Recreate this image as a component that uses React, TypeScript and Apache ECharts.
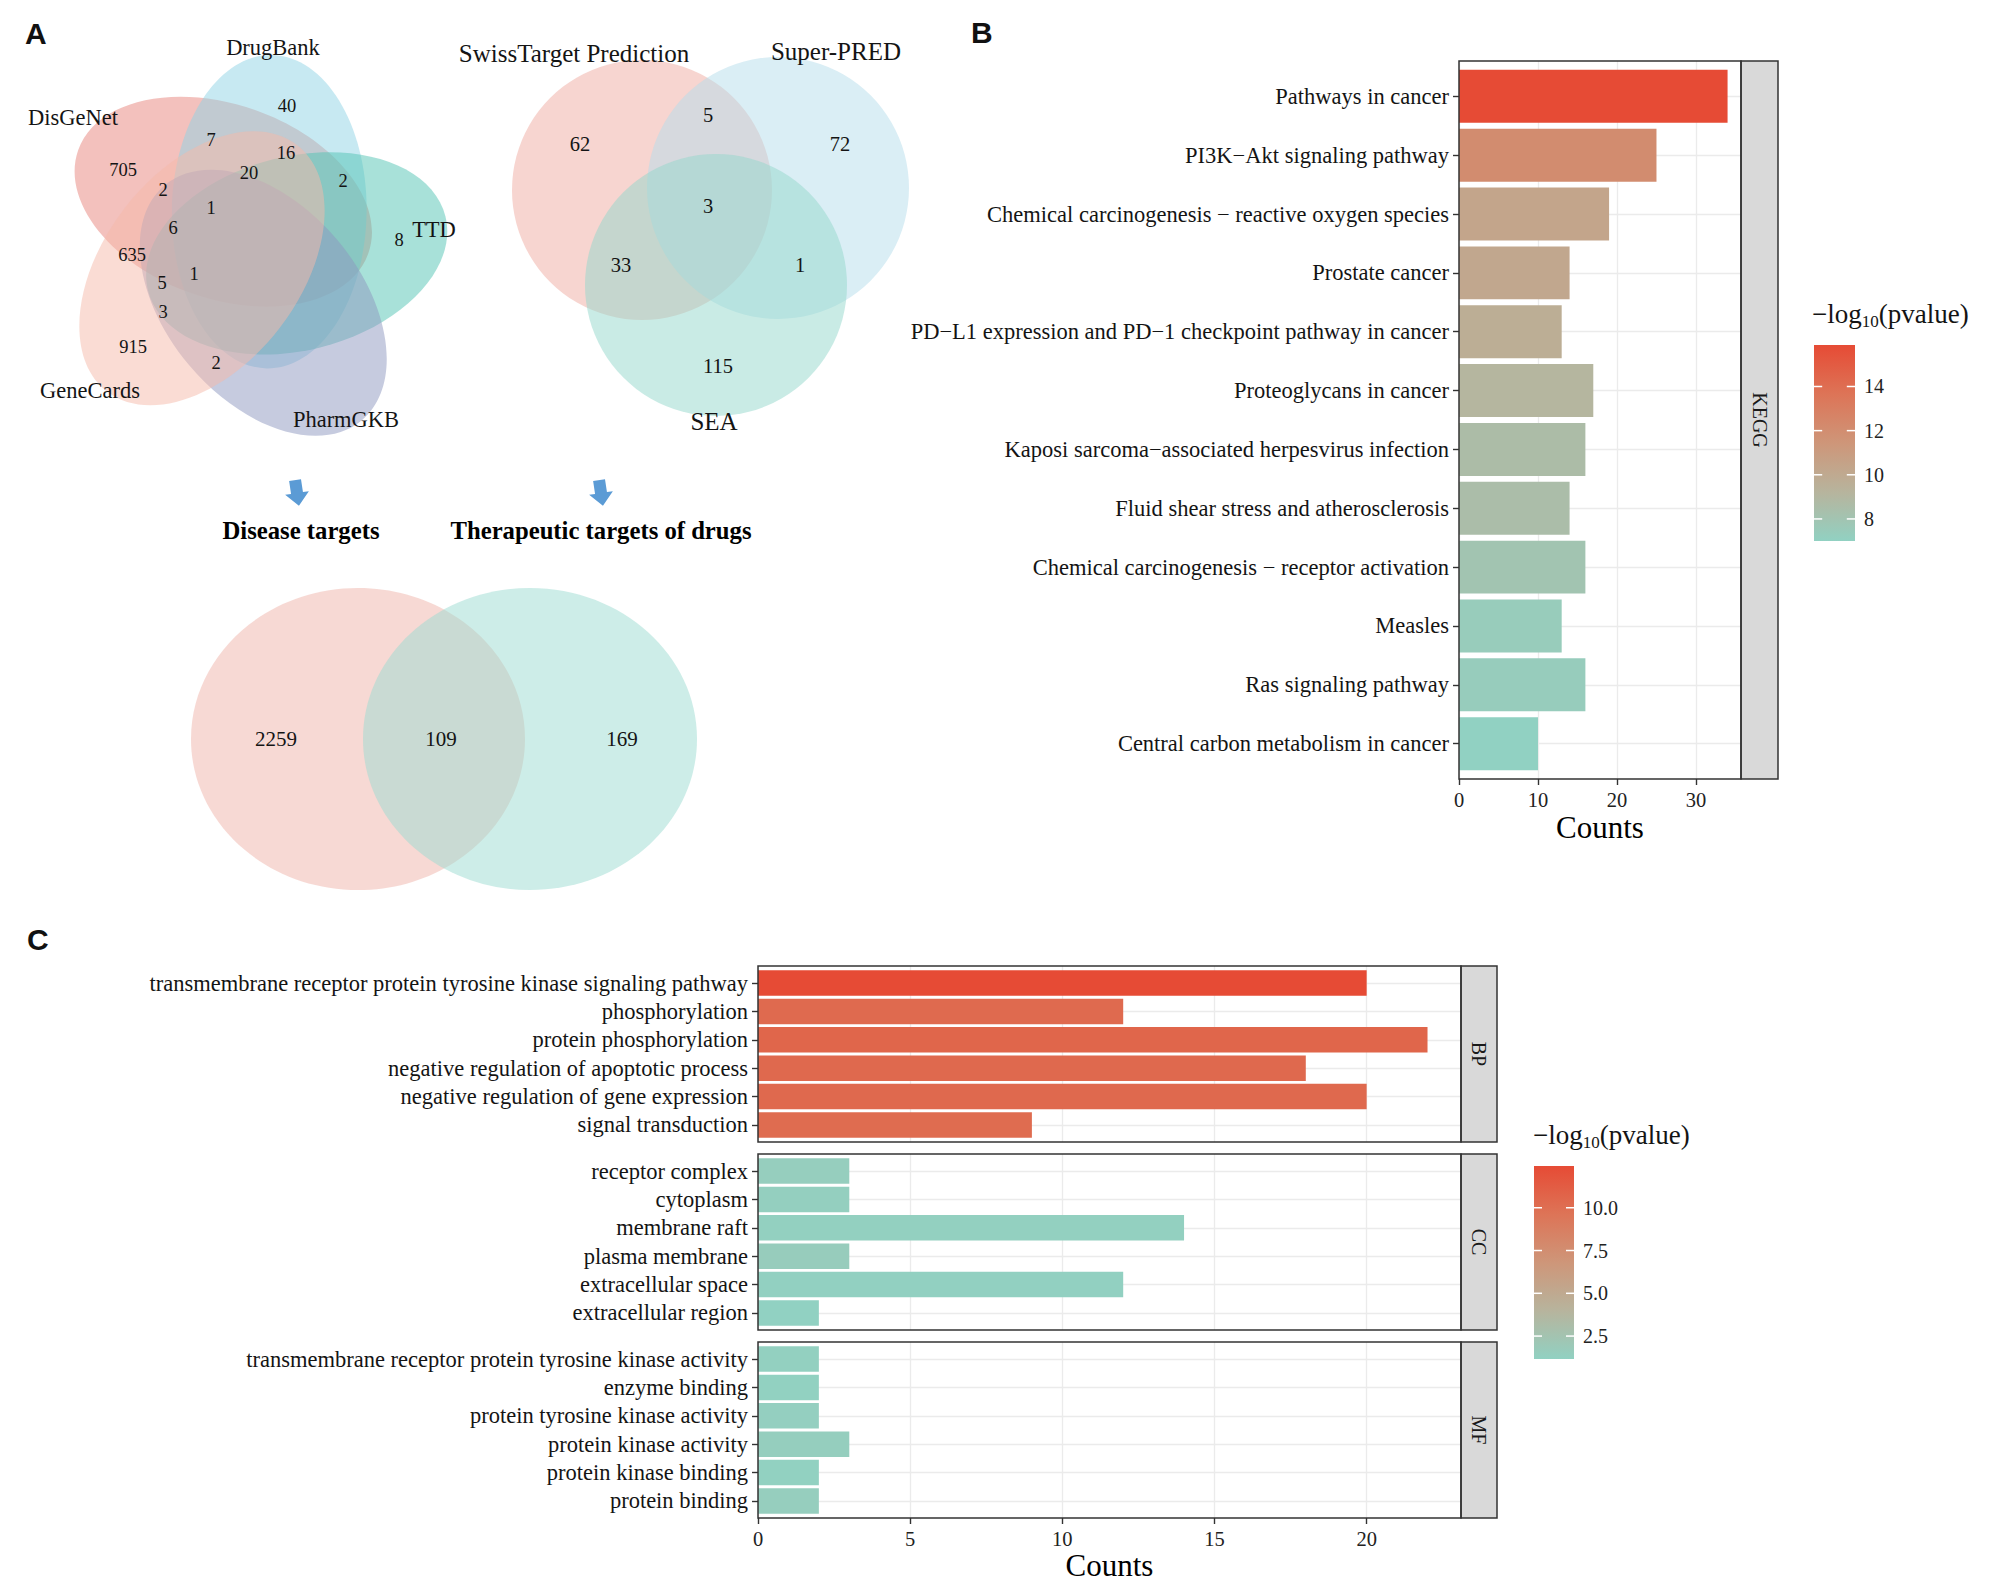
import React, { useEffect, useRef } from "react";
import * as echarts from "echarts";

const SERIF = '"Liberation Serif", "Times New Roman", serif';
const SANS = '"Liberation Sans", Arial, sans-serif';
const W = 1999;
const H = 1596;

// ---------- Panel B: KEGG ----------
const keggTerms = [
  "Pathways in cancer",
  "PI3K−Akt signaling pathway",
  "Chemical carcinogenesis − reactive oxygen species",
  "Prostate cancer",
  "PD−L1 expression and PD−1 checkpoint pathway in cancer",
  "Proteoglycans in cancer",
  "Kaposi sarcoma−associated herpesvirus infection",
  "Fluid shear stress and atherosclerosis",
  "Chemical carcinogenesis − receptor activation",
  "Measles",
  "Ras signaling pathway",
  "Central carbon metabolism in cancer",
];
const keggCounts = [34, 25, 19, 14, 13, 17, 16, 14, 16, 13, 16, 10];
const keggLogP = [15.88, 12.1, 10.35, 10.15, 9.7, 9.1, 8.6, 8.5, 8.0, 7.4, 7.35, 7.0];
const keggColorTicks = [8, 10, 12, 14];
const keggXTicks = [0, 10, 20, 30];

// ---------- Panel C: GO ----------
const bpTerms = [
  "transmembrane receptor protein tyrosine kinase signaling pathway",
  "phosphorylation",
  "protein phosphorylation",
  "negative regulation of apoptotic process",
  "negative regulation of gene expression",
  "signal transduction",
];
const bpCounts = [20, 12, 22, 18, 20, 9];
const bpLogP = [12.44, 10.3, 10.6, 10.4, 10.4, 10.2];

const ccTerms = [
  "receptor complex",
  "cytoplasm",
  "membrane raft",
  "plasma membrane",
  "extracellular space",
  "extracellular region",
];
const ccCounts = [3, 3, 14, 3, 12, 2];
const ccLogP = [1.5, 1.4, 1.3, 1.6, 1.25, 1.16];

const mfTerms = [
  "transmembrane receptor protein tyrosine kinase activity",
  "enzyme binding",
  "protein tyrosine kinase activity",
  "protein kinase activity",
  "protein kinase binding",
  "protein binding",
];
const mfCounts = [2, 2, 2, 3, 2, 2];
const mfLogP = [1.3, 1.2, 1.35, 1.45, 1.2, 1.5];
const goFacets = ["BP", "CC", "MF"];
const goColorTicks = [2.5, 5.0, 7.5, 10.0];
const goXTicks = [0, 5, 10, 15, 20];

// ---------- Panel A: Venn diagrams ----------
const fiveSetNames = ["DisGeNet", "DrugBank", "TTD", "PharmGKB", "GeneCards"];
const fiveSetCounts = ["40", "7", "16", "705", "20", "2", "2", "1", "6", "8", "635", "1", "5", "3", "915", "2"];
const threeSetNames = ["SwissTarget Prediction", "Super-PRED", "SEA"];
const threeSetCounts = ["62", "5", "72", "3", "33", "1", "115"];
const twoSetNames = ["Disease targets", "Therapeutic targets of drugs"];
const twoSetCounts = ["2259", "109", "169"];

const GRADIENT = ["#91D1C2", "#B7B49D", "#CE9679", "#DD7457", "#E64B35"];
const KEGG_RANGE = [7.0, 15.88];
const GO_RANGE = [1.16, 12.44];

// ---------- layout (positions, not data) ----------
const FIVE_ELLIPSES = [
  { cx: 223.3, cy: 201.7, a: 154, b: 97, rot: 199.6, color: "#E8847C" },
  { cx: 269.3, cy: 211.7, a: 156.7, b: 97.3, rot: -89, color: "#8FD3E6" },
  { cx: 296.7, cy: 253.3, a: 153.3, b: 97, rot: -14, color: "#52C3B3" },
  { cx: 263.3, cy: 302.7, a: 153.3, b: 97, rot: 50, color: "#8E98BF" },
  { cx: 202, cy: 268.3, a: 155.7, b: 98, rot: 127.6, color: "#F6BAAA" },
];
const FIVE_NAME_POS = [
  [73, 117],
  [273, 47],
  [434, 229],
  [346, 419],
  [90, 390],
];
const FIVE_COUNT_POS = [
  [287, 106], [211, 140], [286, 153], [123, 170], [249, 173], [343, 181],
  [163, 190], [211, 208], [173, 228], [399, 240], [132, 255], [194, 274],
  [162, 283], [163, 312], [133, 347], [216, 363],
];
const THREE_CIRCLES = [
  { cx: 642, cy: 190, r: 130, color: "#EFABA1" },
  { cx: 778, cy: 188, r: 131, color: "#B5DDEB" },
  { cx: 716, cy: 285, r: 131, color: "#93D7CB" },
];
const THREE_NAME_POS = [
  [574, 53],
  [836, 51],
  [714, 421],
];
const THREE_COUNT_POS = [
  [580, 144], [708, 115], [840, 144], [708, 206], [621, 265], [800, 265], [718, 366],
];
const TWO_ELLIPSES = [
  { cx: 358, cy: 739, rx: 167, ry: 151, color: "#EFB3A9" },
  { cx: 530, cy: 739, rx: 167, ry: 151, color: "#9BDBD1" },
];
const TWO_COUNT_POS = [
  [276, 739], [441, 739], [622, 739],
];

function rgba(hex: string, a: number) {
  const r = parseInt(hex.slice(1, 3), 16);
  const g = parseInt(hex.slice(3, 5), 16);
  const b = parseInt(hex.slice(5, 7), 16);
  return `rgba(${r},${g},${b},${a})`;
}

let measureCtx: CanvasRenderingContext2D | null = null;
function measure(text: string, size: number, family: string, weight = "normal") {
  if (!measureCtx) measureCtx = document.createElement("canvas").getContext("2d");
  if (!measureCtx) return text.length * size * 0.5;
  measureCtx.font = `${weight} ${size}px ${family}`;
  return measureCtx.measureText(text).width;
}

function txt(text: string, x: number, y: number, size: number, extra: any = {}) {
  return {
    type: "text",
    x,
    y,
    z: 20,
    style: {
      text,
      fontSize: size,
      fontFamily: SERIF,
      fill: "#141414",
      align: "center",
      verticalAlign: "middle",
      ...extra,
    },
  };
}

function legendTitle(x: number, yMid: number) {
  const fMain = 27;
  const fSub = 17;
  const w1 = measure("−log", fMain, SERIF);
  const w2 = measure("10", fSub, SERIF);
  return [
    txt("−log", x, yMid, fMain, { align: "left" }),
    txt("10", x + w1, yMid + 7, fSub, { align: "left" }),
    txt("(pvalue)", x + w1 + w2, yMid, fMain, { align: "left" }),
  ];
}

function colorbar(x: number, y: number, w: number, h: number, range: number[], ticks: number[], digits: number) {
  const els: any[] = [];
  els.push({
    type: "rect",
    z: 15,
    shape: { x, y, width: w, height: h },
    style: {
      fill: new echarts.graphic.LinearGradient(
        0, 1, 0, 0,
        GRADIENT.map((c, i) => ({ offset: i / (GRADIENT.length - 1), color: c }))
      ),
    },
  });
  ticks.forEach((v) => {
    const yy = y + h - ((v - range[0]) / (range[1] - range[0])) * h;
    const tl = w / 5;
    els.push({ type: "line", z: 16, shape: { x1: x, y1: yy, x2: x + tl, y2: yy }, style: { stroke: "#ffffff", lineWidth: 1.5 } });
    els.push({ type: "line", z: 16, shape: { x1: x + w - tl, y1: yy, x2: x + w, y2: yy }, style: { stroke: "#ffffff", lineWidth: 1.5 } });
    els.push(txt(v.toFixed(digits), x + w + 9, yy, 20, { align: "left", fill: "#222" }));
  });
  return els;
}

function arrow(cx: number, cy: number) {
  const pts = [
    [-6, -13], [6, -13], [6, 0], [12, 0], [0, 13], [-12, 0], [-6, 0],
  ];
  return {
    type: "polygon",
    x: cx,
    y: cy,
    rotation: 0.15,
    z: 12,
    shape: { points: pts },
    style: { fill: "#5B9BD5" },
  };
}

function buildOption(): any {
  const KB = { left: 1459, top: 61, width: 282, height: 718 };
  const stripB = 37;
  const C_LEFT = 758;
  const C_W = 703;
  const C_TOPS = [966, 1154, 1342];
  const C_H = 176;
  const stripC = 36;

  const tickStyle = { color: "#333333", width: 1.4 };
  const gridLine = { color: "#EBEBEB", width: 1.3 };

  const keggXMax = Math.max(...keggCounts) * 1.05;
  const goXMax = Math.max(...bpCounts, ...ccCounts, ...mfCounts) * 1.05;

  const panels = [
    { box: KB, cats: keggTerms, counts: keggCounts, logp: keggLogP, xMax: keggXMax, interval: 5, ticks: keggXTicks, showX: true, nameGap: 33 },
    { box: { left: C_LEFT, top: C_TOPS[0], width: C_W, height: C_H }, cats: bpTerms, counts: bpCounts, logp: bpLogP, xMax: goXMax, interval: 2.5, ticks: goXTicks, showX: false, nameGap: 30 },
    { box: { left: C_LEFT, top: C_TOPS[1], width: C_W, height: C_H }, cats: ccTerms, counts: ccCounts, logp: ccLogP, xMax: goXMax, interval: 2.5, ticks: goXTicks, showX: false, nameGap: 30 },
    { box: { left: C_LEFT, top: C_TOPS[2], width: C_W, height: C_H }, cats: mfTerms, counts: mfCounts, logp: mfLogP, xMax: goXMax, interval: 2.5, ticks: goXTicks, showX: true, nameGap: 30 },
  ];

  const grids: any[] = [];
  const xAxes: any[] = [];
  const yAxes: any[] = [];
  const series: any[] = [];

  panels.forEach((p) => {
    const n = p.cats.length;
    // ggplot discrete expansion: 0.6 units on each side instead of 0.5
    const unit = p.box.height / (n + 0.2);
    const pad = 0.1 * unit;
    const bgIdx = grids.length;
    grids.push({ left: p.box.left, top: p.box.top, width: p.box.width, height: p.box.height, containLabel: false });
    const barIdx = grids.length;
    grids.push({ left: p.box.left, top: p.box.top + pad, width: p.box.width, height: p.box.height - 2 * pad, containLabel: false });

    xAxes.push({
      gridIndex: bgIdx,
      type: "value",
      min: 0,
      max: p.xMax,
      interval: p.interval,
      axisLine: { show: false },
      axisTick: { show: p.showX, length: 6, lineStyle: tickStyle, customValues: p.ticks },
      axisLabel: { show: p.showX, customValues: p.ticks, fontFamily: SERIF, fontSize: 20.5, color: "#222", margin: 10 },
      splitLine: { show: true, lineStyle: gridLine },
      ...(p.showX
        ? {
            name: "Counts",
            nameLocation: "middle",
            nameGap: p.nameGap,
            nameTextStyle: { fontFamily: SERIF, fontSize: 31, color: "#000" },
          }
        : {}),
    });
    yAxes.push({ gridIndex: bgIdx, type: "value", min: 0, max: 1, show: false });

    xAxes.push({ gridIndex: barIdx, type: "value", min: 0, max: p.xMax, interval: p.interval, show: false });
    yAxes.push({
      gridIndex: barIdx,
      type: "category",
      inverse: true,
      data: p.cats,
      axisLine: { show: false },
      axisTick: { show: true, alignWithLabel: true, length: 6, lineStyle: tickStyle },
      axisLabel: { interval: 0, fontFamily: SERIF, fontSize: 22.5, color: "#141414", margin: 10 },
      splitLine: { show: true, alignWithLabel: true, lineStyle: gridLine },
    });

    series.push({
      type: "bar",
      xAxisIndex: barIdx,
      yAxisIndex: barIdx,
      barCategoryGap: "10%",
      encode: { x: 0, y: 1 },
      data: p.counts.map((c, i) => [c, i, p.logp[i]]),
      z: 3,
    });
  });

  const els: any[] = [];

  // panel letters
  els.push(txt("A", 25, 33, 30, { align: "left", fontFamily: SANS, fontWeight: "bold", fill: "#111" }));
  els.push(txt("B", 971, 32, 30, { align: "left", fontFamily: SANS, fontWeight: "bold", fill: "#111" }));
  els.push(txt("C", 27, 939, 30, { align: "left", fontFamily: SANS, fontWeight: "bold", fill: "#111" }));

  // five-set venn
  FIVE_ELLIPSES.forEach((e) => {
    els.push({
      type: "ellipse",
      x: e.cx,
      y: e.cy,
      rotation: (-e.rot * Math.PI) / 180,
      z: 5,
      shape: { cx: 0, cy: 0, rx: e.a, ry: e.b },
      style: { fill: rgba(e.color, 0.5) },
    });
  });
  fiveSetNames.forEach((n, i) => {
    const p = FIVE_NAME_POS[i];
    els.push(txt(n, p[0], p[1], 22.5));
  });
  fiveSetCounts.forEach((n, i) => {
    const p = FIVE_COUNT_POS[i];
    els.push(txt(n, p[0], p[1], 18.5));
  });

  // three-set venn
  THREE_CIRCLES.forEach((c) => {
    els.push({
      type: "circle",
      z: 5,
      shape: { cx: c.cx, cy: c.cy, r: c.r },
      style: { fill: rgba(c.color, 0.5) },
    });
  });
  threeSetNames.forEach((n, i) => {
    const p = THREE_NAME_POS[i];
    els.push(txt(n, p[0], p[1], 25));
  });
  threeSetCounts.forEach((n, i) => {
    const p = THREE_COUNT_POS[i];
    els.push(txt(n, p[0], p[1], 20.5));
  });

  // arrows + captions
  els.push(arrow(297, 493));
  els.push(arrow(601, 493));
  els.push(txt(twoSetNames[0], 301, 530, 24.7, { fontWeight: "bold", fill: "#000" }));
  els.push(txt(twoSetNames[1], 601, 530, 24.7, { fontWeight: "bold", fill: "#000" }));

  // two-set venn
  TWO_ELLIPSES.forEach((e) => {
    els.push({
      type: "ellipse",
      z: 5,
      shape: { cx: e.cx, cy: e.cy, rx: e.rx, ry: e.ry },
      style: { fill: rgba(e.color, 0.5) },
    });
  });
  twoSetCounts.forEach((n, i) => {
    const p = TWO_COUNT_POS[i];
    els.push(txt(n, p[0], p[1], 21));
  });

  // panel borders & strips
  const border = (x: number, y: number, w: number, h: number) => ({
    type: "rect",
    z: 18,
    shape: { x, y, width: w, height: h },
    style: { fill: "none", stroke: "#333333", lineWidth: 1.5 },
  });
  const strip = (x: number, y: number, w: number, h: number, label: string) => [
    {
      type: "rect",
      z: 17,
      shape: { x, y, width: w, height: h },
      style: { fill: "#D9D9D9", stroke: "#333333", lineWidth: 1.5 },
    },
    {
      type: "text",
      z: 19,
      x: x + w / 2,
      y: y + h / 2,
      rotation: -Math.PI / 2,
      style: {
        text: label,
        fontSize: 20,
        fontFamily: SERIF,
        fill: "#1a1a1a",
        align: "center",
        verticalAlign: "middle",
      },
    },
  ];

  els.push(border(KB.left, KB.top, KB.width, KB.height));
  els.push(...strip(KB.left + KB.width, KB.top, stripB, KB.height, "KEGG"));
  C_TOPS.forEach((t, k) => {
    els.push(border(C_LEFT, t, C_W, C_H));
    els.push(...strip(C_LEFT + C_W, t, stripC, C_H, goFacets[k]));
  });

  // legends
  els.push(...legendTitle(1812, 314));
  els.push(...colorbar(1814, 345, 41, 196, KEGG_RANGE, keggColorTicks, 0));
  els.push(...legendTitle(1533, 1135));
  els.push(...colorbar(1534, 1166, 40, 193, GO_RANGE, goColorTicks, 1));

  return {
    animation: false,
    backgroundColor: "#ffffff",
    textStyle: { fontFamily: SERIF },
    grid: grids,
    xAxis: xAxes,
    yAxis: yAxes,
    visualMap: [
      {
        type: "continuous",
        show: false,
        seriesIndex: 0,
        dimension: 2,
        min: KEGG_RANGE[0],
        max: KEGG_RANGE[1],
        inRange: { color: GRADIENT },
      },
      {
        type: "continuous",
        show: false,
        seriesIndex: [1, 2, 3],
        dimension: 2,
        min: GO_RANGE[0],
        max: GO_RANGE[1],
        inRange: { color: GRADIENT },
      },
    ],
    series,
    graphic: { elements: els },
  };
}

export default function App() {
  const ref = useRef<HTMLDivElement>(null);
  useEffect(() => {
    document.body.style.margin = "0";
    if (!ref.current) return;
    const chart = echarts.init(ref.current, undefined, { renderer: "svg", width: W, height: H });
    chart.setOption(buildOption());
    return () => {
      chart.dispose();
    };
  }, []);
  return <div ref={ref} style={{ width: W, height: H, background: "#fff" }} />;
}
